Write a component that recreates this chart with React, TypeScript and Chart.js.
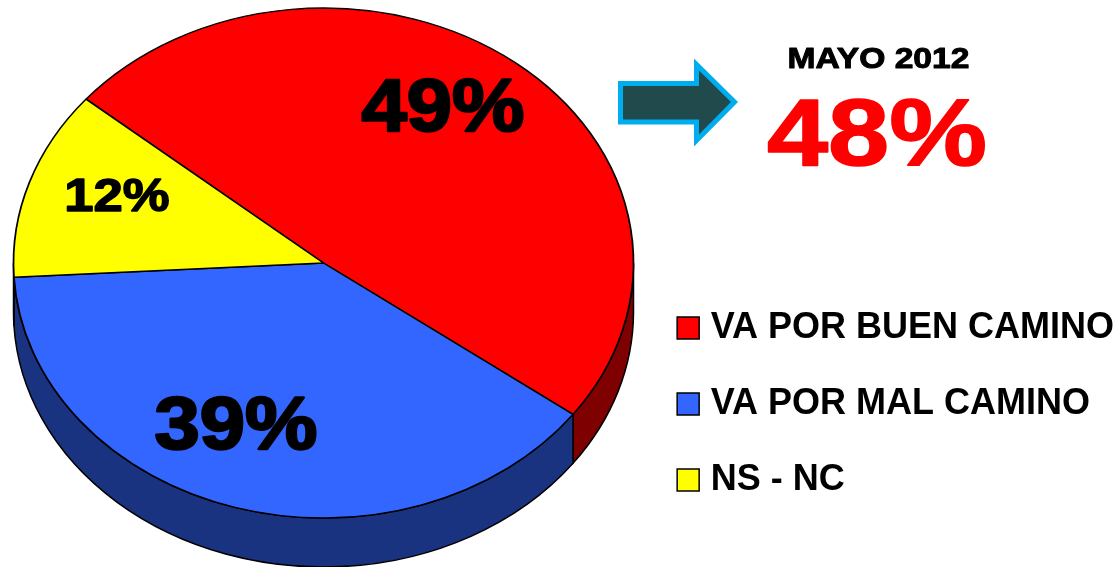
import React, { useEffect, useRef } from "react";
import { Chart, registerables } from "chart.js";

Chart.register(...registerables);

const categories = ["VA POR BUEN CAMINO", "VA POR MAL CAMINO", "NS - NC"];
const values = [49, 39, 12];
const topColors = ["#FF0000", "#3366FF", "#FFFF00"];
const wallColors = ["#7F0000", "#1A3380", "#7F7F00"];
const comparisonTitle = "MAYO 2012";
const comparisonValue = "48%";

const FONT = '"Liberation Sans", Arial, sans-serif';
const PIE = { cx: 323.5, cy: 263, rx: 310, ry: 255, depth: 49 };
const LABEL_STYLE = [
  { x: 443, y: 111, size: 74, sx: 1.1, stroke: 2.5 },
  { x: 236, y: 429, size: 74, sx: 1.1, stroke: 2.5 },
  { x: 117, y: 198, size: 47, sx: 1.12, stroke: 1.5 },
];

const drawText = (ctx: any, text: string, x: number, y: number, size: number, sx: number, stroke: number, color: string) => {
  ctx.save();
  ctx.translate(x, y);
  ctx.scale(sx, 1);
  ctx.font = `bold ${size}px ${FONT}`;
  ctx.fillStyle = color;
  ctx.strokeStyle = color;
  ctx.lineWidth = stroke;
  ctx.lineJoin = "round";
  ctx.textAlign = "center";
  ctx.textBaseline = "middle";
  ctx.strokeText(text, 0, 0);
  ctx.fillText(text, 0, 0);
  ctx.restore();
};

const piePlugin = {
  id: "tiltedPie",
  beforeDatasetsDraw(chart: any) {
    const ctx = chart.ctx;
    const arcs = chart.getDatasetMeta(0).data;
    const first = arcs[0];
    const R = first.outerRadius;
    ctx.save();
    ctx.lineWidth = 1.5;
    ctx.strokeStyle = "#000";
    arcs.forEach((arc: any, i: number) => {
      const lo = Math.max(arc.startAngle, 0);
      const hi = Math.min(arc.endAngle, Math.PI);
      if (hi <= lo) return;
      ctx.beginPath();
      ctx.ellipse(PIE.cx, PIE.cy, PIE.rx, PIE.ry, 0, lo, hi);
      ctx.ellipse(PIE.cx, PIE.cy + PIE.depth, PIE.rx, PIE.ry, 0, hi, lo, true);
      ctx.closePath();
      ctx.fillStyle = wallColors[i];
      ctx.fill();
      ctx.stroke();
    });
    ctx.restore();
    ctx.save();
    ctx.translate(PIE.cx, PIE.cy);
    ctx.scale(PIE.rx / R, PIE.ry / R);
    ctx.translate(-first.x, -first.y);
  },
  afterDatasetsDraw(chart: any) {
    const ctx = chart.ctx;
    ctx.restore();
    ctx.save();
    values.forEach((v, i) => {
      const s = LABEL_STYLE[i];
      drawText(ctx, `${v}%`, s.x, s.y, s.size, s.sx, s.stroke, "#000");
    });

    // arrow
    ctx.beginPath();
    ctx.moveTo(620.5, 83.5);
    ctx.lineTo(696.5, 83.5);
    ctx.lineTo(696.5, 64.5);
    ctx.lineTo(734.5, 102);
    ctx.lineTo(696.5, 140.5);
    ctx.lineTo(696.5, 122);
    ctx.lineTo(620.5, 122);
    ctx.closePath();
    ctx.fillStyle = "#214A4C";
    ctx.fill();
    ctx.lineJoin = "miter";
    ctx.lineWidth = 5;
    ctx.strokeStyle = "#00AEEF";
    ctx.stroke();

    drawText(ctx, comparisonTitle, 878.5, 59.5, 30, 1.12, 1, "#000");
    drawText(ctx, comparisonValue, 877, 139, 94, 1.17, 1.5, "#FF0000");
    ctx.restore();
  },
};

export default function App() {
  const ref = useRef<HTMLCanvasElement>(null);
  useEffect(() => {
    const chart = new Chart(ref.current as HTMLCanvasElement, {
      type: "pie",
      data: {
        labels: categories,
        datasets: [
          {
            data: values,
            backgroundColor: topColors,
            borderColor: "#000",
            borderWidth: 1.5,
            clip: false,
          } as any,
        ],
      },
      options: {
        animation: false,
        responsive: false,
        rotation: -50,
        layout: { padding: { bottom: 29, right: -9 } },
        plugins: {
          tooltip: { enabled: false },
          legend: {
            position: "right",
            align: "end",
            labels: {
              usePointStyle: true,
              pointStyle: "rect",
              boxWidth: 9,
              boxHeight: 22,
              padding: 40,
              color: "#000",
              font: { family: FONT, size: 36, weight: "bold" },
            },
          },
        },
      },
      plugins: [piePlugin],
    } as any);
    return () => chart.destroy();
  }, []);
  return (
    <div style={{ position: "absolute", left: 0, top: 0, width: 1115, height: 567, background: "#fff" }}>
      <canvas ref={ref} width={1115} height={567} style={{ display: "block" }} />
    </div>
  );
}
